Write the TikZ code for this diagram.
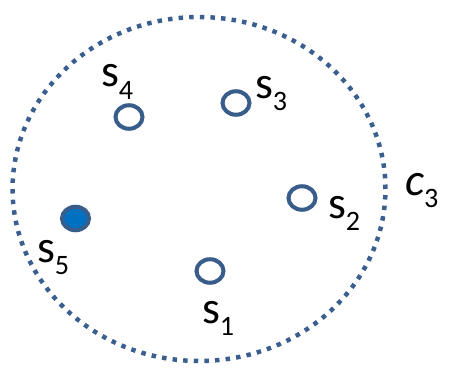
\documentclass[tikz,border=0pt]{standalone}
\usepackage{fontspec}
\setmainfont{Carlito}
\usepackage{tikz}
\usetikzlibrary{shapes.geometric}
\definecolor{ring}{HTML}{385D8A}
\definecolor{dotline}{HTML}{3A5F8F}
\definecolor{solid}{HTML}{0070C0}
\newcommand{\sublbl}[2]{#1\raisebox{-7pt}{\fontsize{16}{16}\selectfont #2}}
\tikzset{
  cluster/.style={
    ellipse, draw=dotline, line width=2.55pt,
    dash pattern=on 2.55pt off 3.5pt,
    minimum width=7.46cm, minimum height=6.88cm, inner sep=0pt
  },
  sensor/.style={
    ellipse, draw=ring, line width=2.3pt, fill=#1,
    minimum width=0.54cm, minimum height=0.47cm, inner sep=0pt
  },
  sensor/.default=white,
  tag/.style={
    anchor=base west, inner sep=0pt, outer sep=0pt,
    font=\fontsize{26}{30}\selectfont
  },
}
\begin{document}
\begin{tikzpicture}[x=0.02cm, y=-0.02cm]
  \useasboundingbox (0,0) rectangle (452,368);
  \node[cluster] (c3) at (199,189) {};
  % sensors
  \node[sensor] (s1) at (210,271) {};
  \node[sensor] (s2) at (302,198) {};
  \node[sensor] (s3) at (236,103) {};
  \node[sensor] (s4) at (129,117) {};
  \node[sensor=solid] (s5) at (75.5,218.5) {};
  % labels
  \node[tag] (l1) at (202,323) {\sublbl{s}{1}};
  \node[tag] (l2) at (328,218) {\sublbl{s}{2}};
  \node[tag] (l3) at (255,98) {\sublbl{s}{3}};
  \node[tag] (l4) at (101,87) {\sublbl{s}{4}};
  \node[tag] (l5) at (37,262) {\sublbl{s}{5}};
  \node[tag] (lc) at (405,195) {\sublbl{\textit{c}}{3}};
\end{tikzpicture}
\end{document}
